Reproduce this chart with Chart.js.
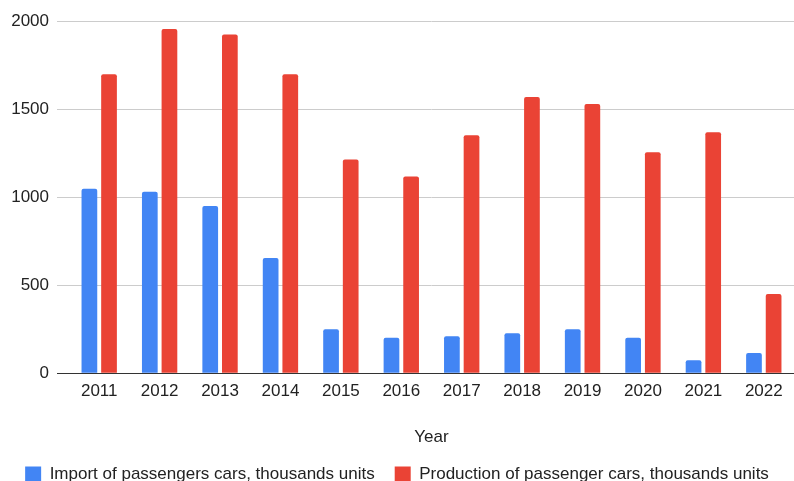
<!DOCTYPE html>
<html>
<head>
<meta charset="utf-8">
<script src="https://cdn.jsdelivr.net/npm/chart.js@4"></script>
<style>
  html, body { margin: 0; padding: 0; background: #fff; overflow: hidden; }
  #wrap { width: 794px; height: 481px; }
</style>
</head>
<body>
<div id="wrap"><canvas id="myChart" width="794" height="481"></canvas></div>
<script>
// Datos
const years = ["2011", "2012", "2013", "2014", "2015", "2016", "2017", "2018", "2019", "2020", "2021", "2022"];
const importCars = [1048, 1031, 949, 654, 250, 202, 210, 227, 250, 202, 73, 114];
const productionCars = [1697, 1954, 1924, 1697, 1214, 1117, 1351, 1568, 1528, 1254, 1368, 450];
const yTicks = [0, 500, 1000, 1500, 2000];

const importLabel = "Import of passengers cars, thousands units";
const productionLabel = "Production of passenger cars, thousands units";

Chart.defaults.font.family = "'Liberation Sans', Arial, sans-serif";
Chart.defaults.color = "#222";

const canvas = document.querySelector("#myChart");

new Chart(canvas, {
  type: "bar",
  data: {
    labels: years,
    datasets: [
      {
        label: importLabel,
        data: importCars,
        backgroundColor: "#4285f4",
        borderRadius: 2,
        borderSkipped: "bottom",
        barPercentage: 0.8,
        categoryPercentage: 0.65
      },
      {
        label: productionLabel,
        data: productionCars,
        backgroundColor: "#ea4335",
        borderRadius: 2,
        borderSkipped: "bottom",
        barPercentage: 0.8,
        categoryPercentage: 0.65
      }
    ]
  },
  options: {
    responsive: false,
    animation: false,
    layout: { padding: { top: 21, right: 0, left: 0, bottom: -12 } },
    plugins: {
      tooltip: { enabled: false },
      legend: {
        position: "bottom",
        labels: {
          boxWidth: 16,
          boxHeight: 16,
          padding: 20,
          font: { size: 17 },
          color: "#222"
        }
      }
    },
    scales: {
      x: {
        grid: { display: false, drawTicks: false },
        border: { display: true, color: "#333", width: 1 },
        ticks: { font: { size: 17 }, padding: 8, color: "#222" },
        title: { display: true, text: "Year", font: { size: 17 }, color: "#222", padding: { top: 18, bottom: -2 } }
      },
      y: {
        min: 0,
        max: 2000,
        afterBuildTicks: (axis) => { axis.ticks = yTicks.map(v => ({ value: v })); },
        afterFit: (axis) => { axis.width = 69; },
        grid: {
          color: "#cccccc",
          drawTicks: true,
          tickLength: 12,
          tickColor: (ctx) => (ctx.tick && ctx.tick.value === 0 ? "#333" : "#cccccc")
        },
        border: { display: false },
        ticks: {
          font: { size: 17 },
          padding: 8,
          color: "#222",
          callback: (v) => String(v)
        }
      }
    }
  }
});
</script>
</body>
</html>
